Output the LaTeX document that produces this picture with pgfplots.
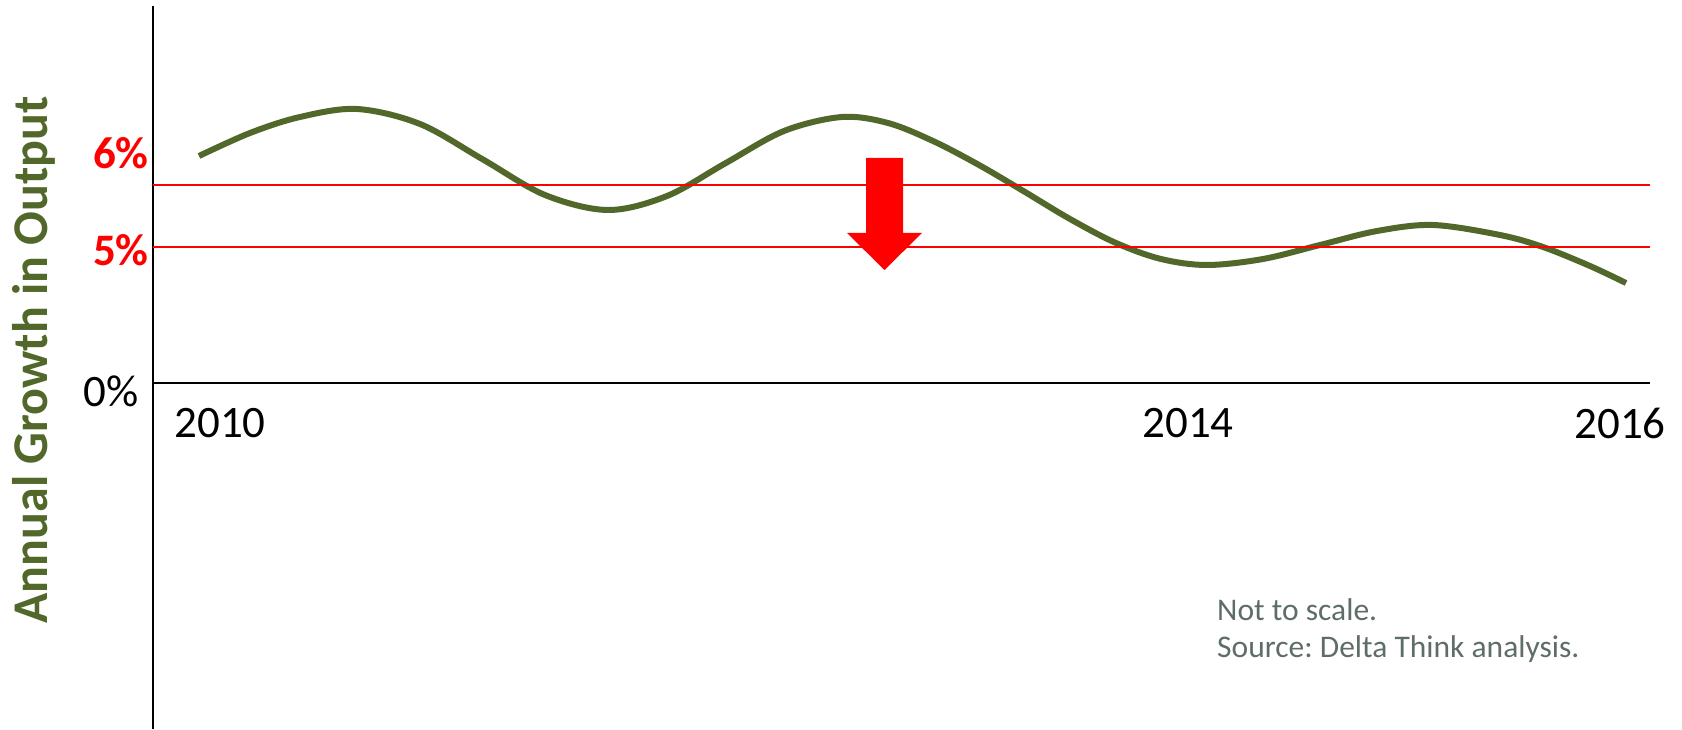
\documentclass[border=0pt]{standalone}
\usepackage{fontspec}
\setmainfont{Carlito}
\usepackage{pgfplots}
\pgfplotsset{compat=1.18}
\definecolor{olivegreen}{RGB}{82,104,42}
\definecolor{notegray}{RGB}{94,110,102}

\begin{document}
\begin{tikzpicture}
\path[use as bounding box] (-153pt,0pt) rectangle (1529pt,729pt);
\begin{axis}[
    at={(0pt,0pt)}, anchor=south west,
    scale only axis, width=1497pt, height=723pt,
    xmin=0, xmax=1497, ymin=-346, ymax=377,
    axis lines=middle,
    every inner x axis line/.append style={-},
    every inner y axis line/.append style={-},
    axis line style={line width=2.2pt, black},
    major tick length=0pt,
    clip=false,
    xtick={67,1035,1467},
    xticklabels={2010,2014,2016},
    xticklabel style={anchor=north, inner sep=0pt, yshift=-25pt,
        font=\fontsize{45}{54}\selectfont},
    ytick={-8,133,230},
    yticklabels={0\%\kern10pt, \textcolor{red}{\bfseries 5\%}, \textcolor{red}{\bfseries 6\%}},
    yticklabel style={anchor=east, inner sep=0pt, xshift=-4pt,
        font=\fontsize{45}{54}\selectfont},
    ylabel={Annual Growth in Output},
    every axis y label/.style={at={(axis description cs:-0.0708,0.5104)},
        anchor=base, rotate=90, text=olivegreen,
        font=\fontsize{50}{60}\selectfont\bfseries},
]
% growth curve (schematic, not to scale)
\addplot[olivegreen, line width=6pt, smooth, tension=0.55] coordinates {
    (46,227)(97,250)(147,266)(204,274)
    (267,259)(330,223.5)(392,188)(455,173)
    (514,187)(572,219.5)(631,252)(689,266)
    (735,260)(780,242)(826,218)(872,191)(917,164)(963,140)(1008,124)(1054,118)
    (1110,124)(1167,138)(1224,152)(1280,158)
    (1347,148)(1390,136)(1437,117)(1473,100)
};
% 6% and 5% reference lines
\addplot[red, line width=1.8pt] coordinates {(0,198)(1497,198)};
\addplot[red, line width=1.8pt] coordinates {(0,136)(1497,136)};
% downward arrow
\addplot[fill=red, draw=none] coordinates {
    (713,225)(750,225)(750,150)(769,150)(731.5,113)(694,150)(713,150)(713,225)
};
\node[anchor=base west, inner sep=0pt, text=notegray,
      font=\fontsize{31.5}{37}\selectfont] at (axis cs:1064,-237) {Not to scale.};
\node[anchor=base west, inner sep=0pt, text=notegray,
      font=\fontsize{31.5}{37}\selectfont] at (axis cs:1064,-274) {Source:\ Delta Think analysis.};
\end{axis}
\end{tikzpicture}
\end{document}
